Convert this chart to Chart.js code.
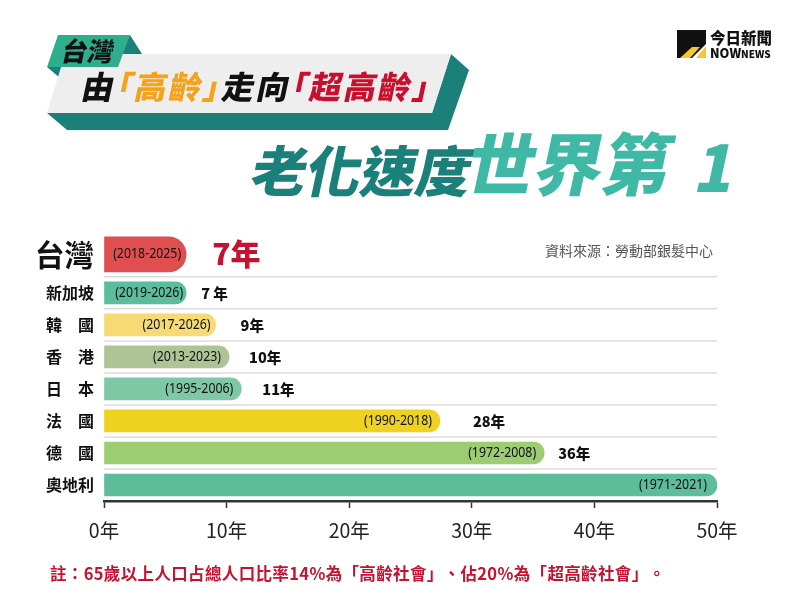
<!DOCTYPE html>
<html lang="zh-Hant">
<head>
<meta charset="utf-8">
<title>老化速度世界第 1</title>
<script src="https://cdn.jsdelivr.net/npm/chart.js@4"></script>
<style>
  html, body { margin: 0; background: #fff; }
  #wrap { position: relative; width: 800px; height: 610px; overflow: hidden; text-spacing-trim: space-all; }
  #chart, #head { position: absolute; left: 0; top: 0; }
  #head text { font-family: "Noto Sans CJK TC"; font-weight: 900; }
  #head .tight { font-feature-settings: "palt"; letter-spacing: 2.5px; }
  #note {
    position: absolute; left: 50px; top: 562px; white-space: nowrap;
    font: 700 16.5px/22px "Noto Sans CJK TC"; color: #c4122f; letter-spacing: 0.35px;
  }
  #source {
    position: absolute; left: 545px; top: 240px; white-space: nowrap;
    font: 400 14px/20px "Noto Sans CJK TC"; color: #555;
  }
</style>
</head>
<body>
<div id="wrap">
  <canvas id="chart" width="800" height="610"></canvas>

  <svg id="head" width="800" height="220">
    <polygon points="47,113 432,113 451,54 469,70 448,130 67,130" fill="#1a8079"/>
    <polygon points="130,35 142,54 118,54" fill="#1a8079"/>
    <polygon points="47,67 66,67 60,78" fill="#1a8079"/>
    <polygon points="65,54 451,54 432,113 47,113" fill="#eeeeee"/>
    <polygon points="58,35 130,35 118,67 47,67" fill="#2fae8e"/>

    <g transform="translate(60,61) skewX(-12)">
      <text font-size="26" fill="#111">台灣</text>
    </g>
    <g transform="translate(80,99) skewX(-12)">
      <text class="tight" font-size="32" fill="#111">由<tspan fill="#f5a21b">「高齡」</tspan>走向<tspan fill="#c8102e">「超高齡」</tspan></text>
    </g>
    <g transform="translate(248,192) skewX(-12)">
      <text font-size="55" fill="#1a8079">老化速度</text>
    </g>
    <g transform="translate(463,190) skewX(-12)">
      <text font-size="68" fill="#3fb9a6">世界第</text>
    </g>
    <g transform="translate(692,192) skewX(-12)">
      <text font-size="64" fill="#3fb9a6">1</text>
    </g>

    <polygon points="677,30 706,30 706,44 692,58 677,58" fill="#111"/>
    <polygon points="680,58 692,47 700,47 690,58" fill="#f7c531"/>
    <polygon points="696,58 706,46 706,58" fill="#f7c531"/>
    <text x="710" y="44" font-size="15.5" fill="#111">今日新聞</text>
    <text x="710" y="58" font-size="12.5" fill="#111">NOW<tspan font-size="10">NEWS</tspan></text>
  </svg>

  <div id="source">資料來源：勞動部銀髮中心</div>
  <div id="note">註：65歲以上人口占總人口比率14%為「高齡社會」、佔20%為「超高齡社會」。</div>
</div>

<script>
  const countries = ['台灣', '新加坡', '韓　國', '香　港', '日　本', '法　國', '德　國', '奧地利'];
  const years = [6.7, 6.7, 9.1, 10.2, 11.2, 27.4, 35.9, 50];
  const periods = ['(2018-2025)', '(2019-2026)', '(2017-2026)', '(2013-2023)', '(1995-2006)', '(1990-2018)', '(1972-2008)', '(1971-2021)'];
  const yearLabels = ['7年', '7 年', '9年', '10年', '11年', '28年', '36年', ''];

  const barColors = ['#e04f50', '#5bbd9b', '#f6da74', '#adc596', '#7fc8a6', '#eed21f', '#9ccd72', '#5cbd9b'];
  const labelGaps = [26, 15, 25, 20, 21, 33, 14, 0];
  const periodGaps = [5, 3, 5, 8, 8, 8, 8, 10];
  const rowWeights = [1.4, 1, 1, 1, 1, 1, 1, 1];

  // category scale whose first row (Taiwan) is taller than the others
  class RowScale extends Chart.CategoryScale {
    rowEdge(i) {
      const total = rowWeights.reduce((a, b) => a + b, 0);
      const used = rowWeights.slice(0, i).reduce((a, b) => a + b, 0);
      return this.top + (this.bottom - this.top) * used / total;
    }
    getPixelForValue(value) {
      const i = typeof value === 'number' ? value : this.parse(value);
      return (this.rowEdge(i) + this.rowEdge(i + 1)) / 2;
    }
  }
  RowScale.id = 'rows';
  RowScale.defaults = Chart.CategoryScale.defaults;
  Chart.register(RowScale);

  const rowLines = {
    id: 'rowLines',
    beforeDatasetsDraw(chart) {
      const { ctx, chartArea, scales } = chart;
      ctx.save();
      ctx.strokeStyle = '#dcdcdc';
      ctx.lineWidth = 1.5;
      for (let i = 1; i < countries.length; i++) {
        const y = scales.y.rowEdge(i);
        ctx.beginPath();
        ctx.moveTo(chartArea.left, y);
        ctx.lineTo(chartArea.right, y);
        ctx.stroke();
      }
      ctx.restore();
    }
  };

  const barLabels = {
    id: 'barLabels',
    afterDatasetsDraw(chart) {
      const { ctx, scales } = chart;
      ctx.save();
      ctx.textBaseline = 'middle';
      countries.forEach((c, i) => {
        const end = scales.x.getPixelForValue(years[i]);
        const y = scales.y.getPixelForValue(i);
        ctx.textAlign = 'right';
        ctx.fillStyle = '#111';
        ctx.font = '13.5px "Noto Sans"';
        ctx.fillText(periods[i], end - periodGaps[i], y, 68);
        ctx.textAlign = 'left';
        if (i === 0) {
          ctx.fillStyle = '#c4122f';
          ctx.font = '900 30px "Noto Sans CJK TC"';
          ctx.fillText(yearLabels[i], end + labelGaps[i], y - 1);
        } else {
          ctx.fillStyle = '#111';
          ctx.font = '900 14.5px "Noto Sans CJK TC"';
          ctx.fillText(yearLabels[i], end + labelGaps[i], y + 1);
        }
      });
      ctx.restore();
    }
  };

  new Chart(document.getElementById('chart'), {
    type: 'bar',
    data: {
      labels: countries,
      datasets: [
        {
          data: years.map((v, i) => i === 0 ? v : null),
          backgroundColor: barColors,
          barThickness: 35,
          stack: 'rows',
          borderRadius: 18,
          borderSkipped: 'left'
        },
        {
          data: years.map((v, i) => i === 0 ? null : v),
          backgroundColor: barColors,
          barThickness: 22,
          stack: 'rows',
          borderRadius: 11,
          borderSkipped: 'left'
        }
      ]
    },
    options: {
      indexAxis: 'y',
      responsive: false,
      animation: false,
      layout: { padding: { top: 232, right: 83, left: 0, bottom: 0 } },
      plugins: { legend: { display: false }, tooltip: { enabled: false } },
      scales: {
        x: {
          stacked: true,
          min: 0,
          max: 50,
          afterFit: s => { s.height = 109; },
          border: { color: '#333', width: 2.5 },
          grid: { drawOnChartArea: false, tickLength: 7, tickColor: '#333', tickWidth: 1.5 },
          ticks: {
            stepSize: 10,
            maxRotation: 0,
            padding: 11,
            color: '#222',
            font: { family: '"Noto Sans CJK TC"', size: 19.5 },
            callback: v => v + '年'
          }
        },
        y: {
          type: 'rows',
          stacked: true,
          afterFit: s => { s.width = 104; },
          border: { display: false },
          grid: { display: false, drawTicks: false },
          ticks: {
            autoSkip: false,
            padding: 10,
            color: '#111',
            font: ctx => ctx.index === 0
              ? { family: '"Noto Sans CJK TC"', size: 29.5, weight: '700' }
              : { family: '"Noto Sans CJK TC"', size: 16, weight: '700' }
          }
        }
      }
    },
    plugins: [rowLines, barLabels]
  });
</script>
</body>
</html>
